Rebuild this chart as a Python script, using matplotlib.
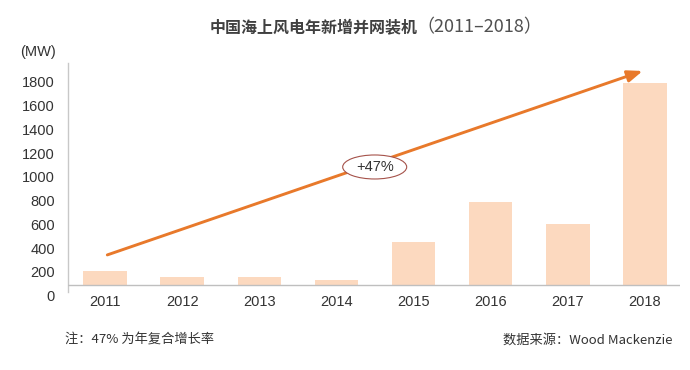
import matplotlib
matplotlib.use("Agg")
import matplotlib.pyplot as plt
from matplotlib.patches import Ellipse
import numpy as np

years = ["2011", "2012", "2013", "2014", "2015", "2016", "2017", "2018"]
capacity_mw = [210, 160, 160, 132, 454, 791, 607, 1787]
y_ticks = [0, 200, 400, 600, 800, 1000, 1200, 1400, 1600, 1800]
title_cn = "中国海上风电年新增并网装机"
title_years = "（2011–2018）"
unit_label = "(MW)"
growth_label = "+47%"
note_text = "注：47% 为年复合增长率"
source_text = "数据来源：Wood Mackenzie"

# annotation arrow endpoints (category index, MW)
arrow_start = (0.03, 343)
arrow_end = (6.97, 1890)
baseline = 90  # where the category axis line is drawn

BAR = "#FCD9BF"
ORANGE = "#E8792B"
TXT = "#333333"
FAM = ["Liberation Sans", "Noto Sans CJK SC", "DejaVu Sans"]
CJK = ["Noto Sans CJK SC", "DejaVu Sans"]
plt.rcParams["font.family"] = FAM

fig = plt.figure(figsize=(6.9, 3.7), dpi=100)
ax = fig.add_axes([67.5 / 690, (370 - 295.7) / 370, (680 - 67.5) / 690, (295.7 - 63) / 370])

x = np.arange(len(years))
vals = np.array(capacity_mw)
ax.bar(x, vals - baseline, bottom=baseline, width=0.563, color=BAR, zorder=2)
ax.set_xlim(-0.486, 7.454)
ax.set_ylim(0, 1957)

ax.axhline(baseline, color="#BFBFBF", lw=1.0, zorder=3)
for s in ["top", "right", "bottom"]:
    ax.spines[s].set_visible(False)
ax.spines["left"].set_color("#C8C8C8")
ax.spines["left"].set_linewidth(1.0)
ax.spines["left"].set_bounds(31, 1957)

ax.set_yticks(y_ticks)
ax.set_yticklabels([str(t) for t in y_ticks])
ax.set_xticks(x)
ax.set_xticklabels(years)
ax.tick_params(axis="y", length=0, pad=9, labelsize=10.5, labelcolor=TXT)
ax.tick_params(axis="x", length=0, pad=-0.5, labelsize=10.5, labelcolor=TXT)

ax.annotate("", xy=arrow_end, xytext=arrow_start,
            arrowprops=dict(arrowstyle="-|>,head_length=0.9,head_width=0.35",
                            color=ORANGE, lw=2.1, shrinkA=0, shrinkB=0), zorder=4)

# label ellipse near the middle of the arrow
ex = (374.7 - 105) / 77.14
ey = (295.7 - 167) / 0.11889
ell = Ellipse((ex, ey), width=64 / 77.14, height=24 / 0.11889,
              facecolor="white", edgecolor="#A5524A", lw=0.8, zorder=5)
ax.add_patch(ell)
ax.text(ex, ey, growth_label, ha="center", va="center", fontsize=10.5, color=TXT, zorder=6)

# title: bold Chinese part followed by regular-weight years
t1 = fig.text(210 / 690, 1 - 27 / 370, title_cn, ha="left", va="center", fontsize=11.5,
              color="#404040", fontweight="bold", family=CJK)
fig.canvas.draw()
bb = t1.get_window_extent()
fig.text((bb.x1 - 2) / 690, 1 - 27 / 370, title_years, ha="left", va="center", fontsize=13,
         color="#505050", family=CJK)

fig.text(20 / 690, 1 - 52 / 370, unit_label, ha="left", va="center", fontsize=10.5, color=TXT)

fig.text(65 / 690, 1 - 340 / 370, note_text, ha="left", va="center", fontsize=9.5, color=TXT,
         family=CJK)
fig.text(672 / 690, 1 - 340 / 370, source_text, ha="right", va="center", fontsize=9.5, color=TXT,
         family=CJK)

fig.savefig("out.png", dpi=100, facecolor="white")
